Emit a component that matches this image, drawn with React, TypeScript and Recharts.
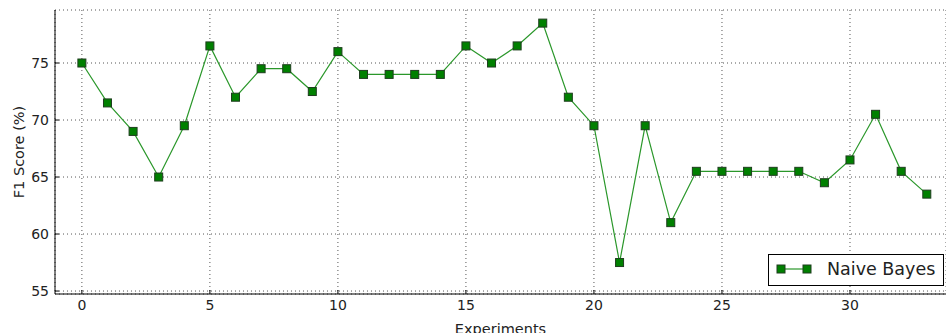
import React from 'react';
import { LineChart, Line, XAxis, YAxis, CartesianGrid } from 'recharts';

const experiments = [0,1,2,3,4,5,6,7,8,9,10,11,12,13,14,15,16,17,18,19,20,21,22,23,24,25,26,27,28,29,30,31,32,33];
const naiveBayes = [75,71.5,69,65,69.5,76.5,72,74.5,74.5,72.5,76,74,74,74,74,76.5,75,76.5,78.5,72,69.5,57.5,69.5,61,65.5,65.5,65.5,65.5,65.5,64.5,66.5,70.5,65.5,63.5];
const xTicks = [0,5,10,15,20,25,30];
const yTicks = [55,60,65,70,75];
const seriesName = 'Naive Bayes';

const data = experiments.map((x, i) => ({ x, nb: naiveBayes[i] }));

const FONT = '"DejaVu Sans", sans-serif';
const MARK_FILL = '#008000';
const MARK_STROKE = '#1e3d1e';
const LINE = '#2a972a';

const SquareDot = (props: any) => {
  const { cx, cy, index } = props;
  if (cx == null || cy == null) return null;
  return <rect key={`d${index}`} x={cx - 4} y={cy - 4} width={8} height={8} fill={MARK_FILL} stroke={MARK_STROKE} strokeWidth={1} />;
};

const EmptyTick = () => <g />;

const LegendBox = () => (
  <div style={{ position: 'absolute', left: 768, top: 254, width: 174, height: 30, border: '1px solid #000', background: '#fff' }}>
    <svg width={174} height={30} style={{ position: 'absolute', left: 0, top: 0 }}>
      <line x1={12} y1={14} x2={38} y2={14} stroke={LINE} strokeWidth={1.2} />
      <rect x={8} y={10} width={8} height={8} fill={MARK_FILL} stroke={MARK_STROKE} />
      <rect x={34} y={10} width={8} height={8} fill={MARK_FILL} stroke={MARK_STROKE} />
      <text x={58} y={20} fontFamily={FONT} fontSize={17.5} fill="#222">{seriesName}</text>
    </svg>
  </div>
);

export default function App() {
  return (
    <div style={{ position: 'absolute', left: 0, top: 0, width: 946, height: 333, background: '#fff', overflow: 'hidden' }}>
      <LineChart width={946} height={333} data={data} margin={{ top: 10, right: 0, bottom: 9, left: 0 }}>
        <CartesianGrid stroke="#555" strokeDasharray="1 3" strokeWidth={1} />
        <XAxis
          dataKey="x"
          type="number"
          domain={[-1.05, 33.75]}
          ticks={xTicks}
          allowDataOverflow
          height={30}
          tickLine={{ stroke: '#000' }}
          tickSize={-4}
          tickMargin={10}
          axisLine={{ stroke: '#000', strokeWidth: 1 }}
          tick={{ fontFamily: FONT, fontSize: 14, fill: '#222' }}
          label={{ value: 'Experiments', position: 'insideBottom', offset: -10, fontFamily: FONT, fontSize: 14.5, fill: '#222' }}
        />
        <XAxis
          xAxisId="top"
          orientation="top"
          dataKey="x"
          type="number"
          domain={[-1.05, 33.75]}
          ticks={xTicks}
          allowDataOverflow
          height={0}
          tick={<EmptyTick />}
          tickLine={{ stroke: '#000' }}
          tickSize={-4}
          axisLine={{ stroke: '#000', strokeWidth: 1 }}
        />
        <YAxis
          type="number"
          domain={[54.74, 79.65]}
          ticks={yTicks}
          allowDataOverflow
          width={55}
          tickLine={{ stroke: '#000' }}
          tickSize={-4}
          tickMargin={10}
          axisLine={{ stroke: '#000', strokeWidth: 1 }}
          tick={{ fontFamily: FONT, fontSize: 14, fill: '#222' }}
          label={{ value: 'F1 Score (%)', angle: -90, position: 'insideLeft', offset: 19, style: { textAnchor: 'middle' }, fontFamily: FONT, fontSize: 14.5, fill: '#222' }}
        />
        <Line
          type="linear"
          dataKey="nb"
          name={seriesName}
          stroke={LINE}
          strokeWidth={1.2}
          dot={<SquareDot />}
          activeDot={false}
          isAnimationActive={false}
        />
      </LineChart>
      <LegendBox />
    </div>
  );
}
